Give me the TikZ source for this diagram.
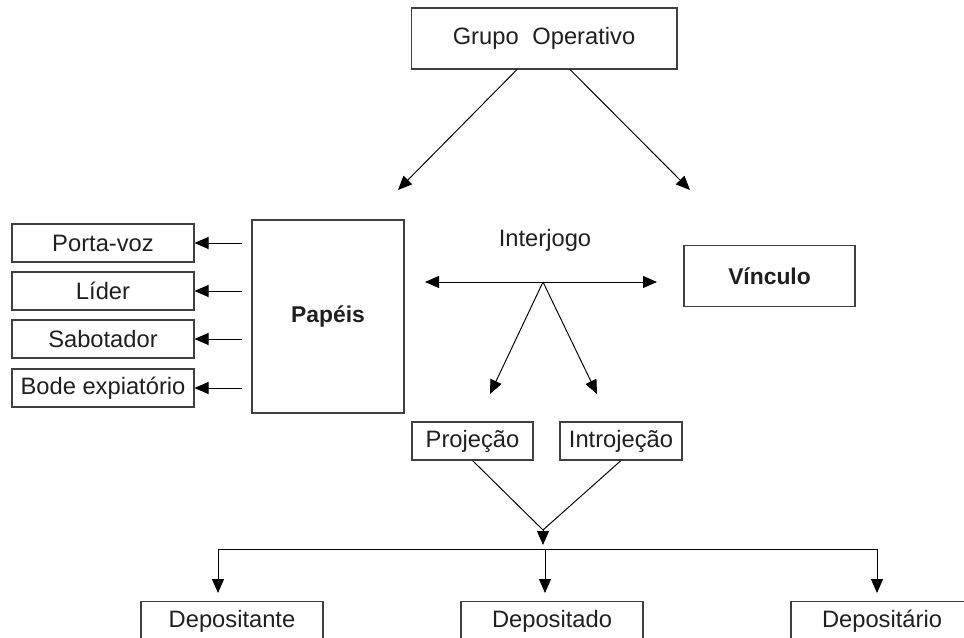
\documentclass[tikz,border=0pt]{standalone}
\usepackage{fontspec}
\setmainfont{Liberation Sans}
\usepackage{tikz}
\usetikzlibrary{positioning,arrows.meta,calc}
\definecolor{boxgray}{rgb}{0.25,0.25,0.25}
\definecolor{txtgray}{rgb}{0.12,0.12,0.12}
\tikzstyle{bx}=[%
      rectangle, draw=boxgray, line width=0.6pt, fill=none, text=txtgray,
      inner sep=0pt, align=center, font=\fontsize{13.5}{16}\selectfont
]
\tikzstyle{boldtxt}=[font=\fontsize{13}{16}\selectfont\bfseries]
\tikzstyle{sidebox}=[bx, minimum width=3.64cm, minimum height=0.76cm]
\tikzstyle{botbox}=[bx, anchor=north, minimum width=3.64cm, text height=0.52cm, text depth=1cm]
\tikzstyle{arr}=[-{Triangle[length=0.28cm,width=0.24cm]}, line width=0.55pt]
\begin{document}
\begin{tikzpicture}[x=0.02cm, y=-0.02cm]
  \useasboundingbox (0,0) rectangle (964,638);
  \clip (0,0) rectangle (964,638);
  % boxes
  \node[bx, minimum width=5.32cm, minimum height=1.22cm] (grupo) at (544,38.5) {Grupo\hspace{0.3em} Operativo};
  \node[bx, boldtxt, minimum width=3.04cm, minimum height=3.86cm] (papeis) at (328,316.5) {Papéis};
  \node[sidebox] (pv)    at (103,243) {Porta-voz};
  \node[sidebox] (lider) at (103,291) {Líder};
  \node[sidebox] (sab)   at (103,339) {Sabotador};
  \node[sidebox] (bode)  at (103,388) {Bode expiatório};
  \node[text=txtgray, font=\fontsize{13.5}{16}\selectfont] (ijlabel) at (545,240) {Interjogo};
  \node[bx, boldtxt, minimum width=3.42cm, minimum height=1.22cm] (vinc) at (769.5,276) {Vínculo};
  \node[bx, minimum width=2.42cm, minimum height=0.76cm] (proj)  at (472.5,441) {Projeção};
  \node[bx, minimum width=2.44cm, minimum height=0.76cm] (intro) at (621,441) {Introjeção};
  \node[botbox] (dpte) at (232,601) {Depositante};
  \node[botbox] (dpdo) at (552,601) {Depositado};
  \node[botbox] (dpio) at (882,601) {Depositário};
  % free ends
  \coordinate (ga) at (398,190);
  \coordinate (gb) at (690,190);
  \coordinate (ij) at (543,282);
  \coordinate (ijl) at (425,282);
  \coordinate (ijr) at (657,282);
  \coordinate (pa) at (490,394);
  \coordinate (ia) at (597,394);
  \coordinate (meet) at (543,530);
  \coordinate (tip) at (543,545);
  \coordinate (b1) at (218,549);
  \coordinate (b2) at (545,549);
  \coordinate (b3) at (877,549);
  \coordinate (t1) at (218,593);
  \coordinate (t2) at (545,593);
  \coordinate (t3) at (877,593);
  % connectors
  \draw[arr] ($(grupo.south)+(-27,0)$) -- (ga);
  \draw[arr] ($(grupo.south)+(26,0)$) -- (gb);
  \foreach \n in {pv,lider,sab,bode}
    \draw[arr] ($(\n.east)+(47,0)$) -- (\n.east);
  \draw[arr] (ij) -- (ijl);
  \draw[arr] (ij) -- (ijr);
  \draw[arr] (ij) -- (pa);
  \draw[arr] (ij) -- (ia);
  \draw[line width=0.55pt] (proj.south) -- (meet) -- (intro.south);
  \draw[arr] (meet) -- (tip);
  \draw[line width=0.55pt] (b1) -- (b3);
  \foreach \i in {1,2,3}
    \draw[arr] (b\i) -- (t\i);
\end{tikzpicture}
\end{document}
